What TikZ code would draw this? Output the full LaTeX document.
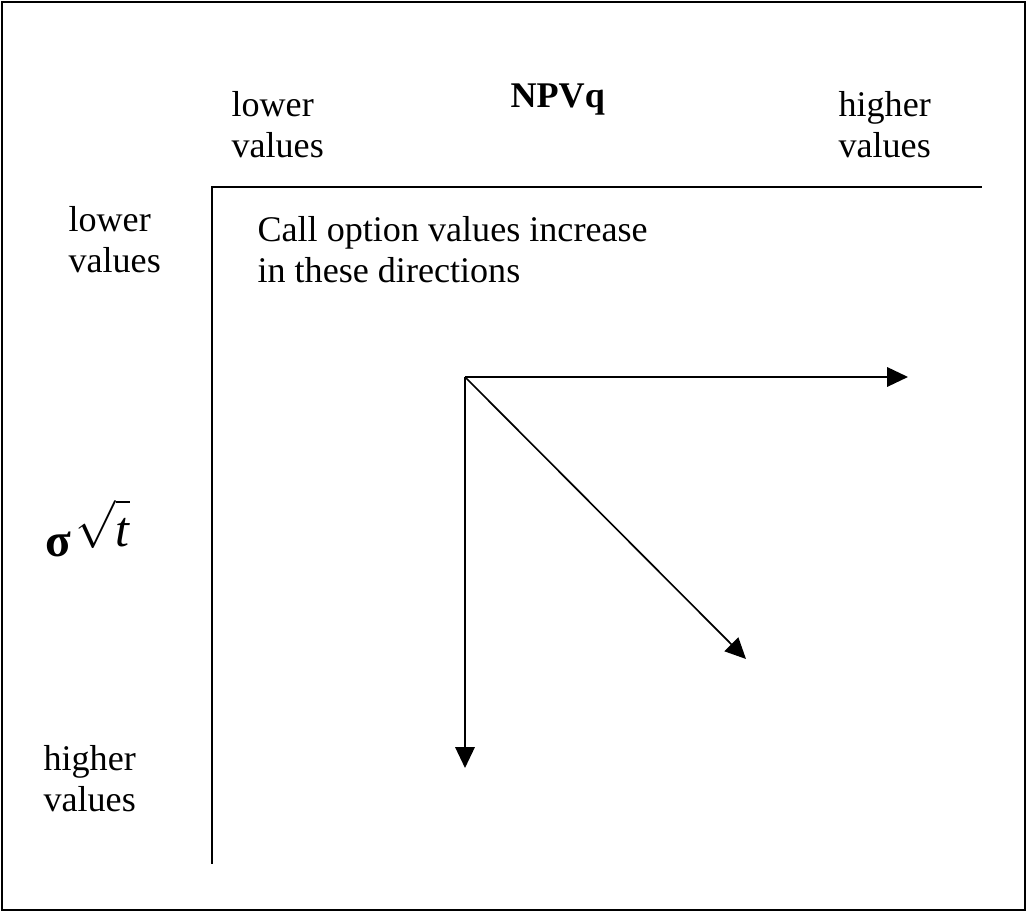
\documentclass[tikz,border=0pt]{standalone}
\usepackage{fontspec}
\setmainfont{Liberation Serif}
\usetikzlibrary{positioning, arrows.meta}

\begin{document}
\begin{tikzpicture}[
    x=0.36pt, y=-0.36pt,
    txt/.style={inner sep=0pt, align=left, font=\fontsize{13}{15.1}\selectfont},
    axis/.style={line width=0.7pt},
    dirarrow/.style={-{Triangle[length=7.5pt, width=7pt]}, line width=0.6pt},
]
\useasboundingbox (0,0) rectangle (1028,912);

% Frame
\draw[line width=0.7pt] (2,2) rectangle (1025,910);

% Axes
\coordinate (corner) at (212,187);
\coordinate (xend) at (982,187);
\coordinate (yend) at (212,864);
\draw[axis] (yend) -- (corner) -- (xend);

% Horizontal axis labels (base = last line)
\node[txt, anchor=base west] (xlow) at (231,158) {lower\\values};
\node[txt, anchor=base west, font=\fontsize{13}{15.1}\selectfont\bfseries] (xname) at (510,108) {NPVq};
\node[txt, anchor=base west] (xhigh) at (838,158) {higher\\values};

% Vertical axis labels
\node[txt, anchor=base west] (ylow) at (68,273) {lower\\values};
\node[inner sep=0pt, anchor=base west] (yname) at (45,557)
     {{\fontsize{17}{20}\selectfont\bfseries σ}\,%
      \raisebox{3.6pt}{\fontsize{18}{22}\selectfont$\sqrt{\mbox{\itshape t}\rule{0pt}{15pt}}$}};
\node[txt, anchor=base west] (yhigh) at (43,812) {higher\\values};

% Directions
\node[txt, anchor=base west] (note) at (257,283) {Call option values increase\\in these directions};
\coordinate (origin) at (465,377);
\coordinate (tipright) at (908,377);
\coordinate (tipdiag) at (746,659);
\coordinate (tipdown) at (465,768);
\foreach \t in {tipright, tipdiag, tipdown} {
    \draw[dirarrow] (origin) -- (\t);
}

\end{tikzpicture}
\end{document}
